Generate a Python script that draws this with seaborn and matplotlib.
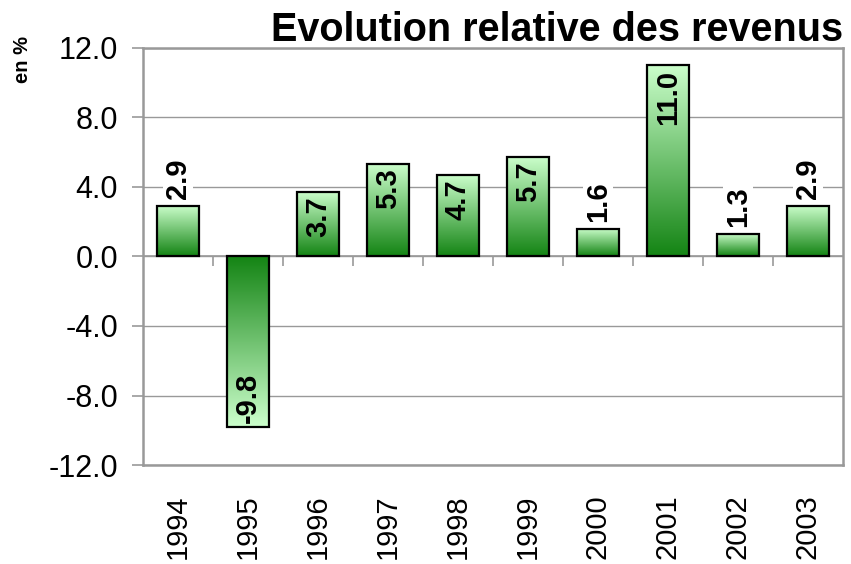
import numpy as np
import matplotlib.pyplot as plt
import seaborn as sns
import pandas as pd
from matplotlib.colors import LinearSegmentedColormap

# Data
years = ['1994', '1995', '1996', '1997', '1998', '1999', '2000', '2001', '2002', '2003']
values = [2.9, -9.8, 3.7, 5.3, 4.7, 5.7, 1.6, 11.0, 1.3, 2.9]
yticks = [-12, -8, -4, 0, 4, 8, 12]

df = pd.DataFrame({'Annee': years, 'Evolution': values})

sns.set_style('white')
plt.rcParams['font.family'] = ['Liberation Sans', 'DejaVu Sans']
plt.rcParams['text.color'] = 'black'
plt.rcParams['xtick.labelcolor'] = 'black'
plt.rcParams['ytick.labelcolor'] = 'black'

grey = '#999999'
light = '#ccffcc'
dark = '#148414'
cmap = LinearSegmentedColormap.from_list('vert', [dark, light])

fig, ax = plt.subplots(figsize=(8.51, 5.64), dpi=100)
fig.subplots_adjust(left=0.168, right=0.9906, top=0.915, bottom=0.1755)

sns.barplot(data=df, x='Annee', y='Evolution', color=light, width=0.6,
            edgecolor='black', linewidth=1.6, ax=ax, zorder=3)

# Gradient fill: dark at zero, light at the value end
grad = np.linspace(0, 1, 256).reshape(-1, 1)
for patch in ax.patches:
    x, w = patch.get_x(), patch.get_width()
    y0, h = patch.get_y(), patch.get_height()
    lo, hi = sorted([y0, y0 + h])
    arr = grad if h >= 0 else grad[::-1]
    im = ax.imshow(arr, extent=[x, x + w, lo, hi], origin='lower',
                   aspect='auto', cmap=cmap, zorder=2.5)
    im.set_clip_path(patch)
    patch.set_facecolor('none')

# Value labels (inside end when the bar is long enough, outside otherwise)
for i, v in enumerate(values):
    txt = f'{v:.1f}'
    if abs(v) > 3:
        if v > 0:
            ax.annotate(txt, (i, v), xytext=(0, -3), textcoords='offset points',
                        rotation=90, ha='center', va='top', fontsize=21,
                        fontweight='bold', zorder=5)
        else:
            ax.annotate(txt, (i, v), xytext=(0, 3), textcoords='offset points',
                        rotation=90, ha='center', va='bottom', fontsize=21,
                        fontweight='bold', zorder=5)
    else:
        ax.annotate(txt, (i, v), xytext=(0, 5), textcoords='offset points',
                    rotation=90, ha='center', va='bottom', fontsize=21,
                    fontweight='bold', zorder=5,
                    bbox=dict(facecolor='white', edgecolor='none', pad=1))

ax.set_ylim(-12, 12)
ax.set_xlim(-0.5, len(years) - 0.5)
ax.set_yticks(yticks)
ax.set_yticklabels([f'{t:.1f}' for t in yticks])
ax.yaxis.grid(True, color=grey, linewidth=1, zorder=0)
ax.set_axisbelow(True)
ax.axhline(0, color=grey, linewidth=1.2, zorder=1)
# category tick marks on the zero line
ax.vlines(np.arange(1, len(years)) - 0.5, -0.55, 0, color=grey, linewidth=1.2, zorder=1)

for s in ax.spines.values():
    s.set_color(grey)
    s.set_linewidth(1.8)

ax.tick_params(axis='y', labelsize=22, length=8, width=1.2, color=grey,
               pad=10, left=True)
ax.tick_params(axis='x', labelsize=21, length=0, pad=21, labelrotation=90)
ax.set_xlabel('')
ax.set_ylabel('')

fig.text(0.026, 0.895, 'en %', rotation=90, ha='center', va='center',
         fontsize=14.5, fontweight='bold')
ax.set_title('Evolution relative des revenus', loc='right', fontsize=28.5,
             fontweight='bold', pad=5)

plt.savefig('out.png', dpi=100)
